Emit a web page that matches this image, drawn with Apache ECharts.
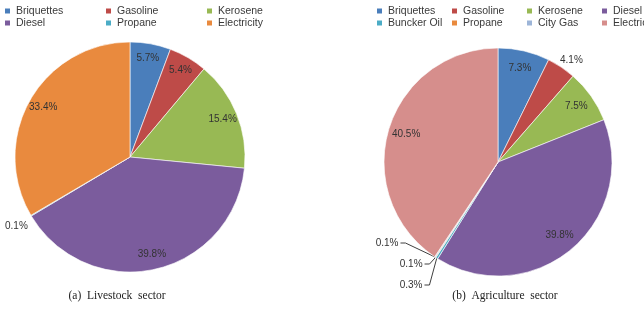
<!DOCTYPE html>
<html>
<head>
<meta charset="utf-8">
<script src="https://cdn.jsdelivr.net/npm/echarts@6/dist/echarts.min.js"></script>
<style>
  html, body { margin: 0; padding: 0; background: #fff; }
  #chart { width: 644px; height: 317px; }
</style>
</head>
<body>
<div id="chart"></div>
<script>
// (a) Livestock sector
const livestockNames = ['Briquettes', 'Gasoline', 'Kerosene', 'Diesel', 'Propane', 'Electricity']
const livestockValues = [5.7, 5.4, 15.4, 39.8, 0.1, 33.4]
const livestockColors = ['#4A7EBB', '#BE4B48', '#98B954', '#7B5C9D', '#4BACC6', '#E98A3E']

// (b) Agriculture sector
const agriNames = ['Briquettes', 'Gasoline', 'Kerosene', 'Diesel', 'Buncker Oil', 'Propane', 'City Gas', 'Electricity']
const agriValues = [7.3, 4.1, 7.5, 39.8, 0.3, 0.1, 0.1, 40.5]
const agriColors = ['#4A7EBB', '#BE4B48', '#98B954', '#7B5C9D', '#4BACC6', '#E98A3E', '#9DB5D8', '#D68E8C']

const captions = ['(a)  Livestock  sector', '(b)  Agriculture  sector']

// labels drawn outside the slice (small slices), with small nudges
const livestockOutside = { Propane: { line: false, len: 5, len2: 0, lh: 12, dx: 3, dy: 8 } }
const agriOutside = {
  Gasoline: { line: false, len: 3, len2: 0, lh: 12, dx: -5, dy: -4 },
  'Buncker Oil': { line: true, len: 8, len2: 5, lh: 20, dx: -3, dy: -21 },
  Propane: { line: true, len: 8, len2: 5, lh: 20, dx: 16, dy: -20 },
  'City Gas': { line: true, len: 8, len2: 5, lh: 20, dx: 5, dy: -19 },
}

const font = 'Liberation Sans, Arial, sans-serif'
const textColor = '#333'

function pieData(names, values, colors) {
  return names.map((n, i) => ({ name: n, value: values[i], itemStyle: { color: colors[i] } }))
}

function labelData(names, values, outside) {
  return names.map((n, i) => {
    const o = outside[n]
    const item = { name: n, value: values[i], itemStyle: { color: 'rgba(0,0,0,0)', borderWidth: 0 } }
    if (o) {
      item.label = { position: 'outside', distanceToLabelLine: 2, overflow: 'none', lineHeight: o.lh }
      item.labelLine = { show: o.line, length: o.len, length2: o.len2 }
    }
    return item
  })
}

// move a label a little and keep its leader line attached to the slice
function nudge(names, outside) {
  return (p) => {
    const o = outside[names[p.dataIndex]]
    if (!o) return {}
    const res = { dx: o.dx, dy: o.dy }
    const pts = p.labelLinePoints
    if (o.line && pts && pts.length === 3) {
      res.labelLinePoints = [
        pts[0],
        [pts[1][0] + o.dx, pts[1][1] + o.dy],
        [pts[2][0] + o.dx, pts[2][1] + o.dy],
      ]
    }
    return res
  }
}

function legendOf(names, colors, left, textWidth, boxWidth) {
  return {
    left: left,
    top: 5,
    width: boxWidth,
    padding: 0,
    itemGap: 0,
    itemWidth: 7,
    itemHeight: 7,
    icon: 'rect',
    selectedMode: false,
    textStyle: {
      width: textWidth,
      overflow: 'truncate',
      fontSize: 10.5,
      lineHeight: 12,
      color: '#3a3a3a',
      fontFamily: font,
    },
    data: names.map((n, i) => ({ name: n, itemStyle: { color: colors[i] } })),
  }
}

const basePie = {
  type: 'pie',
  startAngle: 90,
  clockwise: true,
  silent: true,
  emphasis: { disabled: true },
  label: { show: false },
  labelLine: { show: false },
  itemStyle: { borderColor: '#fff', borderWidth: 0.6 },
}

const labelPie = {
  type: 'pie',
  startAngle: 90,
  clockwise: true,
  silent: true,
  emphasis: { disabled: true },
  avoidLabelOverlap: true,
  label: {
    show: true,
    position: 'inside',
    color: textColor,
    fontSize: 10,
    fontFamily: font,
    overflow: 'none',
    formatter: (p) => p.value.toFixed(1) + '%',
  },
  labelLine: { lineStyle: { color: '#404040', width: 1 } },
}

const chart = echarts.init(document.getElementById('chart'))

chart.setOption({
  animation: false,
  backgroundColor: '#fff',
  legend: [
    legendOf(livestockNames, livestockColors, 3, 88, 305),
    legendOf(agriNames, agriColors, 375, 62, 300),
  ],
  series: [
    Object.assign({}, basePie, {
      center: [130, 157],
      radius: 115,
      data: pieData(livestockNames, livestockValues, livestockColors),
    }),
    Object.assign({}, basePie, {
      center: [498, 162],
      radius: 114,
      data: pieData(agriNames, agriValues, agriColors),
    }),
    Object.assign({}, labelPie, {
      center: [130, 157],
      radius: [79, 115],
      labelLayout: nudge(livestockNames, livestockOutside),
      data: labelData(livestockNames, livestockValues, livestockOutside),
    }),
    Object.assign({}, labelPie, {
      center: [498, 162],
      radius: [72, 114],
      labelLayout: nudge(agriNames, agriOutside),
      data: labelData(agriNames, agriValues, agriOutside),
    }),
  ],
  graphic: [
    {
      type: 'text',
      x: 117,
      y: 296,
      style: { text: captions[0], align: 'center', verticalAlign: 'middle', fontSize: 11.5, fontFamily: 'Liberation Serif, Times New Roman, serif', fill: '#222' },
    },
    {
      type: 'text',
      x: 505,
      y: 296,
      style: { text: captions[1], align: 'center', verticalAlign: 'middle', fontSize: 11.5, fontFamily: 'Liberation Serif, Times New Roman, serif', fill: '#222' },
    },
  ],
})
</script>
</body>
</html>
